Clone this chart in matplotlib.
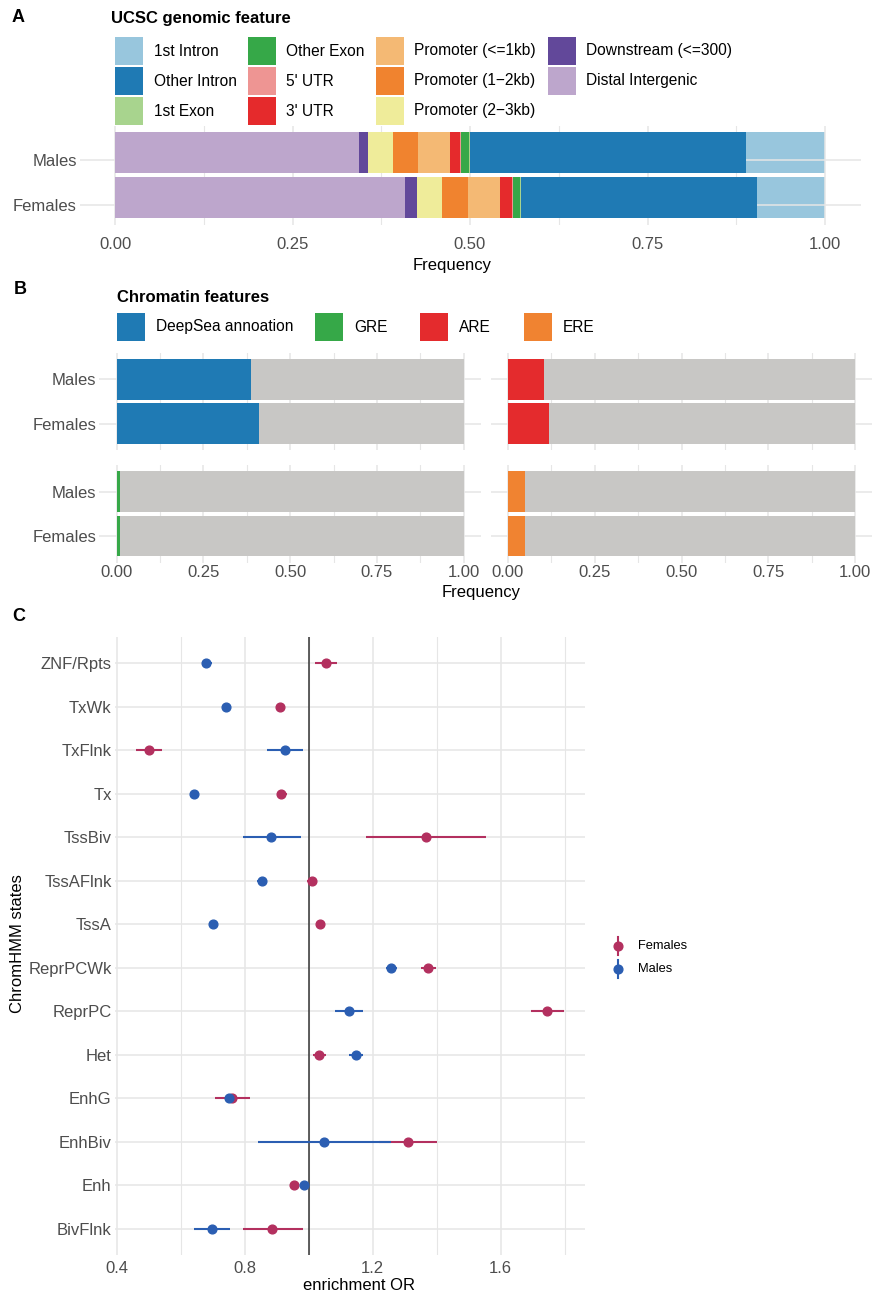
import matplotlib
matplotlib.use("Agg")
import matplotlib.pyplot as plt
from matplotlib.patches import Rectangle
from matplotlib.lines import Line2D
import numpy as np

plt.rcParams['font.family'] = ['Liberation Sans', 'DejaVu Sans']

# ---------------- data ----------------
groups = ['Females', 'Males']

# Panel A: stacking order from left to right
features = ['Distal Intergenic', 'Downstream (<=300)', 'Promoter (2\u22123kb)',
            'Promoter (1\u22122kb)', 'Promoter (<=1kb)', "3' UTR", "5' UTR",
            'Other Exon', '1st Exon', 'Other Intron', '1st Intron']
feature_colors = ['#BDA6CC', '#62489A', '#EFEC9A', '#F0832F', '#F4B974',
                  '#E52A2C', '#EE9593', '#36A848', '#A8D48E', '#1F7AB4', '#98C6DD']
males_frac = [0.343, 0.014, 0.035, 0.035, 0.045, 0.014, 0.001, 0.011, 0.002, 0.389, 0.111]
females_frac = [0.408, 0.017, 0.035, 0.037, 0.045, 0.017, 0.002, 0.010, 0.001, 0.332, 0.096]

# Panel B
chrom_features = ['DeepSea annoation', 'GRE', 'ARE', 'ERE']
chrom_colors = ['#1F7AB4', '#36A848', '#E42B2D', '#F08331']
males_chrom = [0.387, 0.010, 0.104, 0.049]
females_chrom = [0.410, 0.010, 0.118, 0.049]
rest_color = '#C8C7C5'

# Panel C (bottom to top)
states = ['BivFlnk', 'Enh', 'EnhBiv', 'EnhG', 'Het', 'ReprPC', 'ReprPCWk',
          'TssA', 'TssAFlnk', 'TssBiv', 'Tx', 'TxFlnk', 'TxWk', 'ZNF/Rpts']
males_or = [0.698, 0.984, 1.048, 0.752, 1.147, 1.126, 1.257, 0.701, 0.855, 0.883, 0.643, 0.925, 0.742, 0.679]
males_lo = [0.643, 0.978, 0.842, 0.739, 1.125, 1.083, 1.242, 0.695, 0.840, 0.794, 0.637, 0.869, 0.736, 0.666]
males_hi = [0.753, 0.990, 1.256, 0.765, 1.170, 1.170, 1.275, 0.707, 0.871, 0.976, 0.649, 0.983, 0.748, 0.697]
females_or = [0.886, 0.954, 1.311, 0.761, 1.032, 1.746, 1.374, 1.035, 1.009, 1.367, 0.914, 0.501, 0.910, 1.055]
females_lo = [0.794, 0.948, 1.221, 0.708, 1.015, 1.695, 1.351, 1.029, 0.994, 1.178, 0.900, 0.460, 0.904, 1.020]
females_hi = [0.981, 0.960, 1.402, 0.817, 1.053, 1.797, 1.397, 1.041, 1.027, 1.554, 0.931, 0.541, 0.916, 1.090]
sex_colors = {'Females': '#B3305F', 'Males': '#2B5EB2'}

# ---------------- figure ----------------
W, H = 873, 1292
fig = plt.figure(figsize=(W / 100, H / 100), dpi=100)

def fig_axes(x0, x1, y0, y1):
    return fig.add_axes([x0 / W, 1 - y1 / H, (x1 - x0) / W, (y1 - y0) / H])

GRID = '#E6E6E6'
TICKC = '#4D4D4D'
TICKFS = 12

def style(ax, xlabels=True, xpad=5):
    for s in ax.spines.values():
        s.set_visible(False)
    ax.set_axisbelow(True)
    ax.grid(True, which='major', color=GRID, lw=1.1)
    ax.grid(True, which='minor', axis='x', color=GRID, lw=0.8)
    ax.tick_params(axis='both', which='both', length=0, colors=TICKC, labelsize=TICKFS)
    ax.tick_params(axis='x', pad=xpad)
    ax.tick_params(axis='y', pad=2)
    if not xlabels:
        ax.tick_params(axis='x', labelbottom=False)

freq_ticks = [0, 0.25, 0.5, 0.75, 1.0]
freq_labels = ['0.00', '0.25', '0.50', '0.75', '1.00']
freq_minor = [0.125, 0.375, 0.625, 0.875]

# ---------- Panel A ----------
axA = fig_axes(79.5, 860.5, 125.5, 224.5)
ypos = np.arange(len(groups))
left = np.zeros(len(groups))
for f, c, fv, mv in zip(features, feature_colors, females_frac, males_frac):
    vals = np.array([fv, mv])
    z = 0.4 if f == '1st Intron' else 1
    axA.barh(ypos, vals, left=left, height=0.9, color=c, lw=0, zorder=z)
    left += vals
axA.set_xlim(-0.05, 1.05)
axA.set_ylim(-0.6, 1.6)
axA.set_yticks(ypos - 0.16)
axA.set_yticklabels(groups)
axA.set_xticks(freq_ticks)
axA.set_xticklabels(freq_labels)
axA.set_xticks(freq_minor, minor=True)
style(axA, xpad=9)
axA.set_xlabel('Frequency', fontsize=12)
axA.xaxis.set_label_coords((452 - 79.5) / 781, -0.34)

fig.text(12 / W, 1 - 18 / H, 'A', fontsize=13, fontweight='bold', va='center', ha='left')
fig.text(111 / W, 1 - 19 / H, 'UCSC genomic feature', fontsize=12, fontweight='bold',
         va='center', ha='left')
leg_items = list(zip(features, feature_colors))[::-1]
col_key_x = [115, 247.7, 376, 548]
row_key_y = [37, 67, 97]
for i, (lab, c) in enumerate(leg_items):
    col, row = divmod(i, 3)
    kx, ky = col_key_x[col], row_key_y[row]
    fig.add_artist(Rectangle((kx / W, 1 - (ky + 27.5) / H), 28 / W, 27.5 / H,
                             transform=fig.transFigure, color=c, lw=0))
    fig.text((kx + 38.5) / W, 1 - (ky + 14) / H, lab, fontsize=11.2, va='center', ha='left')

# ---------- Panel B ----------
fig.text(14 / W, 1 - 289 / H, 'B', fontsize=13, fontweight='bold', va='center', ha='left')
fig.text(117 / W, 1 - 297 / H, 'Chromatin features', fontsize=12, fontweight='bold',
         va='center', ha='left')
keyB_x = [116.5, 314.8, 420, 524]
for lab, c, kx in zip(chrom_features, chrom_colors, keyB_x):
    fig.add_artist(Rectangle((kx / W, 1 - 341 / H), 28 / W, 28 / H,
                             transform=fig.transFigure, color=c, lw=0))
    fig.text((kx + 39) / W, 1 - 327 / H, lab, fontsize=11.2, va='center', ha='left')

facet_boxes = {
    'DeepSea annoation': (99.3, 481, 353, 450, False),
    'ARE': (490.6, 872.4, 353, 450, False),
    'GRE': (99.3, 481, 465, 562.5, True),
    'ERE': (490.6, 872.4, 465, 562.5, True),
}
for lab, c, mv, fv in zip(chrom_features, chrom_colors, males_chrom, females_chrom):
    x0, x1, y0, y1, showx = facet_boxes[lab]
    ax = fig_axes(x0, x1, y0, y1)
    vals = np.array([fv, mv])
    ax.barh(ypos, vals, height=0.92, color=c, lw=0)
    ax.barh(ypos, 1 - vals, left=vals, height=0.92, color=rest_color, lw=0)
    ax.set_xlim(-0.05, 1.05)
    ax.set_ylim(-0.6, 1.6)
    ax.set_yticks(ypos)
    ax.set_xticks(freq_ticks)
    ax.set_xticklabels(freq_labels)
    ax.set_xticks(freq_minor, minor=True)
    if x0 < 200:
        ax.set_yticklabels(groups)
    else:
        ax.set_yticklabels([])
    style(ax, xlabels=showx, xpad=1.5)
fig.text(481 / W, 1 - 592 / H, 'Frequency', fontsize=12, va='center', ha='center')

# ---------- Panel C ----------
fig.text(12.7 / W, 1 - 616.7 / H, 'C', fontsize=13, fontweight='bold', va='center', ha='left')
axC = fig_axes(114.5, 585, 637, 1255)
yC = np.arange(1, len(states) + 1)
for sex, orv, lo, hi in [('Females', females_or, females_lo, females_hi),
                         ('Males', males_or, males_lo, males_hi)]:
    orv = np.array(orv); lo = np.array(lo); hi = np.array(hi)
    axC.errorbar(orv, yC, xerr=[orv - lo, hi - orv], fmt='o', color=sex_colors[sex],
                 ms=6.3, elinewidth=1.5, capsize=0, zorder=3, label=sex)
allv = np.concatenate([males_lo, males_hi, females_lo, females_hi])
span = allv.max() - allv.min()
axC.set_xlim(allv.min() - 0.05 * span, allv.max() + 0.05 * span)
axC.set_ylim(0.4, len(states) + 0.6)
axC.set_yticks(yC)
axC.set_yticklabels(states)
axC.set_xticks([0.4, 0.8, 1.2, 1.6])
axC.set_xticklabels(['0.4', '0.8', '1.2', '1.6'])
axC.set_xticks([0.6, 1.0, 1.4, 1.8], minor=True)
style(axC, xpad=4)
axC.axvline(1.0, color='#333333', lw=1.1, zorder=2)
axC.set_xlabel('enrichment OR', fontsize=12)
axC.xaxis.set_label_coords((359 - 114.5) / 470.5, -0.038)
fig.text(18 / W, 1 - 944 / H, 'ChromHMM states', fontsize=12, rotation=90,
         va='center', ha='center')

# legend C
for lab, yy in [('Females', 945.7), ('Males', 969)]:
    c = sex_colors[lab]
    fig.add_artist(Line2D([618.3 / W, 618.3 / W], [1 - (yy - 9) / H, 1 - (yy + 9) / H],
                          transform=fig.transFigure, color=c, lw=1.5))
    fig.add_artist(Line2D([618.3 / W], [1 - yy / H], transform=fig.transFigure,
                          color=c, marker='o', ms=6.3, lw=0))
    fig.text(637.7 / W, 1 - yy / H, lab, fontsize=9.3, va='center', ha='left')

fig.savefig('out.png', dpi=100)
